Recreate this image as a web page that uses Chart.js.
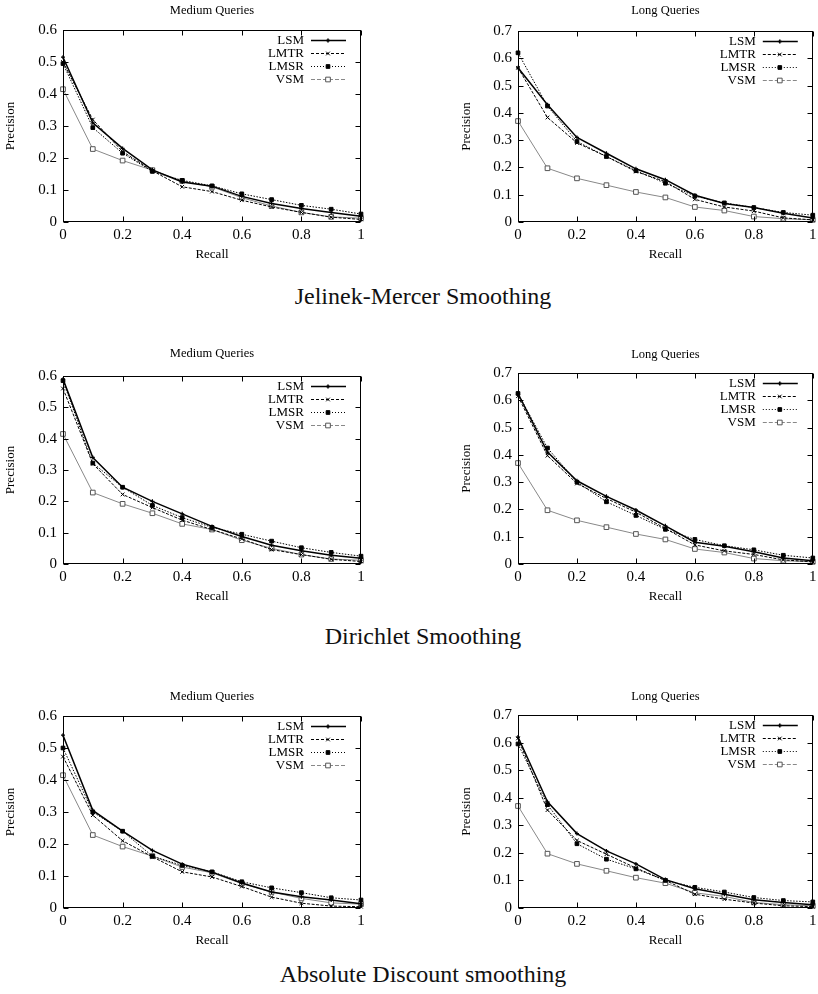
<!DOCTYPE html>
<html>
<head>
<meta charset="utf-8">
<title>Precision / Recall</title>
<script src="https://cdn.jsdelivr.net/npm/chart.js@4.4.1/dist/chart.umd.min.js"></script>
<style>
  html, body { margin: 0; padding: 0; background: #fff; }
  body { width: 818px; height: 994px; position: relative; overflow: hidden; font-family: 'Liberation Serif', 'Times New Roman', serif; }
  .panel { position: absolute; }
  .caption { position: absolute; transform: translateX(-50%); font-size: 24px; line-height: 24px; white-space: nowrap; color: #111; }
</style>
</head>
<body>
<div class="panel" style="left:0;top:0"><canvas id="jmMedium" width="370" height="264"></canvas></div>
<div class="panel" style="left:410px;top:0"><canvas id="jmLong" width="408" height="264"></canvas></div>
<div class="caption" style="left:423px;top:284px">Jelinek-Mercer Smoothing</div>

<div class="panel" style="left:0;top:340px"><canvas id="dirMedium" width="370" height="266"></canvas></div>
<div class="panel" style="left:410px;top:340px"><canvas id="dirLong" width="408" height="266"></canvas></div>
<div class="caption" style="left:423px;top:624px">Dirichlet Smoothing</div>

<div class="panel" style="left:0;top:680px"><canvas id="adMedium" width="370" height="270"></canvas></div>
<div class="panel" style="left:410px;top:680px"><canvas id="adLong" width="408" height="270"></canvas></div>
<div class="caption" style="left:423px;top:962px">Absolute Discount smoothing</div>

<script>
// recall levels (x axis)
const recall = [0, 0.1, 0.2, 0.3, 0.4, 0.5, 0.6, 0.7, 0.8, 0.9, 1];
const seriesNames = ['LSM', 'LMTR', 'LMSR', 'VSM'];

// VSM baseline, same in every row
const vsmMedium = [0.415, 0.228, 0.192, 0.162, 0.128, 0.110, 0.076, 0.050, 0.030, 0.016, 0.012];
const vsmLong   = [0.370, 0.197, 0.160, 0.135, 0.110, 0.090, 0.055, 0.042, 0.020, 0.012, 0.008];

// Jelinek-Mercer
const jmMediumLSM  = [0.515, 0.310, 0.230, 0.163, 0.125, 0.112, 0.080, 0.058, 0.042, 0.030, 0.018];
const jmMediumLMTR = [0.500, 0.320, 0.220, 0.160, 0.110, 0.095, 0.068, 0.047, 0.030, 0.015, 0.008];
const jmMediumLMSR = [0.495, 0.295, 0.215, 0.158, 0.130, 0.113, 0.088, 0.070, 0.052, 0.040, 0.025];
const jmLongLSM    = [0.565, 0.430, 0.310, 0.252, 0.195, 0.155, 0.098, 0.068, 0.053, 0.032, 0.015];
const jmLongLMTR   = [0.565, 0.383, 0.290, 0.240, 0.185, 0.148, 0.083, 0.055, 0.040, 0.015, 0.008];
const jmLongLMSR   = [0.620, 0.425, 0.295, 0.240, 0.188, 0.142, 0.095, 0.070, 0.053, 0.035, 0.025];

// Dirichlet
const dirMediumLSM  = [0.590, 0.340, 0.245, 0.200, 0.160, 0.120, 0.088, 0.060, 0.042, 0.028, 0.018];
const dirMediumLMTR = [0.560, 0.320, 0.222, 0.180, 0.140, 0.110, 0.080, 0.046, 0.030, 0.015, 0.008];
const dirMediumLMSR = [0.585, 0.322, 0.245, 0.187, 0.148, 0.117, 0.095, 0.073, 0.052, 0.037, 0.025];
const dirLongLSM    = [0.625, 0.410, 0.305, 0.248, 0.198, 0.140, 0.080, 0.065, 0.045, 0.022, 0.012];
const dirLongLMTR   = [0.615, 0.397, 0.295, 0.240, 0.190, 0.130, 0.070, 0.048, 0.035, 0.015, 0.008];
const dirLongLMSR   = [0.625, 0.425, 0.300, 0.228, 0.178, 0.127, 0.090, 0.067, 0.052, 0.032, 0.022];

// Absolute discount
const adMediumLSM  = [0.540, 0.305, 0.240, 0.180, 0.137, 0.112, 0.078, 0.050, 0.035, 0.025, 0.013];
const adMediumLMTR = [0.473, 0.290, 0.210, 0.160, 0.113, 0.097, 0.067, 0.034, 0.015, 0.006, 0.004];
const adMediumLMSR = [0.500, 0.300, 0.240, 0.162, 0.133, 0.113, 0.082, 0.063, 0.048, 0.032, 0.025];
const adLongLSM    = [0.620, 0.385, 0.270, 0.207, 0.160, 0.103, 0.070, 0.050, 0.030, 0.020, 0.012];
const adLongLMTR   = [0.615, 0.355, 0.245, 0.195, 0.145, 0.100, 0.050, 0.032, 0.018, 0.008, 0.005];
const adLongLMSR   = [0.595, 0.375, 0.233, 0.177, 0.142, 0.100, 0.075, 0.058, 0.038, 0.027, 0.022];

const serif = "'Liberation Serif', 'Times New Roman', serif";
Chart.defaults.font.family = serif;
Chart.defaults.color = '#000';

// gnuplot-like line styles, one per series (keyDash = pattern shown in the key)
const lineStyles = {
  LSM:  { borderColor: '#000', borderWidth: 1.5, borderDash: [],       keyDash: [],     pointStyle: 'cross',    pointRadius: 2,   pointBorderWidth: 1.2, pointBorderColor: '#000', pointBackgroundColor: '#000' },
  LMTR: { borderColor: '#000', borderWidth: 1,   borderDash: [3, 1.5], keyDash: [3, 2], pointStyle: 'crossRot', pointRadius: 2.6, pointBorderWidth: 1,   pointBorderColor: '#000', pointBackgroundColor: '#000' },
  LMSR: { borderColor: '#000', borderWidth: 1,   borderDash: [1.5, 1.5], keyDash: [1, 2], pointStyle: 'rect', pointRadius: 2.6, pointBorderWidth: 1,   pointBorderColor: '#000', pointBackgroundColor: '#000' },
  VSM:  { borderColor: '#888', borderWidth: 1,   borderDash: [],       keyDash: [4, 2], pointStyle: 'rect',     pointRadius: 3.3, pointBorderWidth: 1,   pointBorderColor: '#555', pointBackgroundColor: '#fff' }
};

// box + inward mirrored ticks + key in the top right corner
const gnuplotFrame = {
  id: 'gnuplotFrame',
  afterDatasetsDraw(chart) {
    const { ctx, chartArea: a, scales } = chart;
    const L = Math.round(a.left) + 0.5, R = Math.round(a.right) - 0.5;
    const T = Math.round(a.top) + 0.5, B = Math.round(a.bottom) - 0.5;
    ctx.save();
    ctx.strokeStyle = '#000';
    ctx.lineWidth = 1;
    ctx.setLineDash([]);
    ctx.strokeRect(L, T, R - L, B - T);
    ctx.beginPath();
    scales.x.ticks.forEach(t => {
      const x = Math.round(scales.x.getPixelForValue(t.value)) + 0.5;
      ctx.moveTo(x, B); ctx.lineTo(x, B - 5);
      ctx.moveTo(x, T); ctx.lineTo(x, T + 5);
    });
    scales.y.ticks.forEach(t => {
      const y = Math.round(scales.y.getPixelForValue(t.value)) + 0.5;
      ctx.moveTo(L, y); ctx.lineTo(L + 5, y);
      ctx.moveTo(R, y); ctx.lineTo(R - 5, y);
    });
    ctx.stroke();

    // key
    ctx.font = '13px ' + serif;
    ctx.textAlign = 'right';
    ctx.textBaseline = 'middle';
    chart.data.datasets.forEach((ds, i) => {
      const y = Math.round(a.top + 9.5 + i * 13) + 0.5;
      ctx.fillStyle = '#000';
      ctx.fillText(ds.label, a.right - 57, y + 0.5);
      ctx.strokeStyle = ds.borderColor;
      ctx.lineWidth = ds.borderWidth;
      ctx.setLineDash(ds.keyDash);
      ctx.beginPath();
      ctx.moveTo(a.right - 50, y);
      ctx.lineTo(a.right - 15, y);
      ctx.stroke();
      ctx.setLineDash([]);
      ctx.strokeStyle = ds.pointBorderColor;
      ctx.fillStyle = ds.pointBackgroundColor;
      Chart.helpers.drawPoint(ctx, {
        pointStyle: ds.pointStyle, radius: ds.pointRadius,
        borderWidth: ds.pointBorderWidth, rotation: 0
      }, a.right - 33, y);
    });
    ctx.restore();
  }
};

const panels = [
  { id: 'jmMedium',  title: 'Medium Queries', ymax: 0.6, top: 30, bottom: 222, titleY: 11, yAxisWidth: 63,  padRight: 9, precisionX: 11, values: [jmMediumLSM, jmMediumLMTR, jmMediumLMSR, vsmMedium] },
  { id: 'jmLong',    title: 'Long Queries',   ymax: 0.7, top: 31, bottom: 222, titleY: 11, yAxisWidth: 108, padRight: 3, precisionX: 57, values: [jmLongLSM, jmLongLMTR, jmLongLMSR, vsmLong] },
  { id: 'dirMedium', title: 'Medium Queries', ymax: 0.6, top: 36, bottom: 224, titleY: 14, yAxisWidth: 63,  padRight: 9, precisionX: 11, values: [dirMediumLSM, dirMediumLMTR, dirMediumLMSR, vsmMedium] },
  { id: 'dirLong',   title: 'Long Queries',   ymax: 0.7, top: 33, bottom: 224, titleY: 15, yAxisWidth: 108, padRight: 3, precisionX: 57, values: [dirLongLSM, dirLongLMTR, dirLongLMSR, vsmLong] },
  { id: 'adMedium',  title: 'Medium Queries', ymax: 0.6, top: 36, bottom: 228, titleY: 17, yAxisWidth: 63,  padRight: 9, precisionX: 11, values: [adMediumLSM, adMediumLMTR, adMediumLMSR, vsmMedium] },
  { id: 'adLong',    title: 'Long Queries',   ymax: 0.7, top: 35, bottom: 228, titleY: 17, yAxisWidth: 108, padRight: 3, precisionX: 57, values: [adLongLSM, adLongLMTR, adLongLMSR, vsmLong] }
];

const plainNumber = v => String(+Number(v).toFixed(2));

panels.forEach(p => {
  const titlePadTop = p.titleY - 7.5;
  const titlePadBottom = p.top - titlePadTop - 15;
  const datasets = p.values.map((vals, i) => Object.assign({
    label: seriesNames[i],
    data: vals.map((v, k) => ({ x: recall[k], y: v })),
    fill: false,
    tension: 0,
    clip: false
  }, lineStyles[seriesNames[i]]));

  new Chart(document.getElementById(p.id), {
    type: 'line',
    data: { datasets },
    options: {
      responsive: false,
      animation: false,
      devicePixelRatio: 1,
      layout: { padding: { left: 0, right: p.padRight, top: 0, bottom: 0 } },
      plugins: {
        legend: { display: false },
        tooltip: { enabled: false },
        title: {
          display: true, text: p.title, fullSize: false, color: '#000',
          font: { family: serif, size: 12.5, weight: 'normal', lineHeight: 1.2 },
          padding: { top: titlePadTop, bottom: titlePadBottom }
        }
      },
      scales: {
        x: {
          type: 'linear', min: 0, max: 1,
          ticks: { stepSize: 0.2, padding: 4, maxRotation: 0, font: { family: serif, size: 15 }, color: '#000', callback: plainNumber },
          grid: { display: false, drawTicks: false },
          border: { display: false },
          title: { display: true, text: 'Recall', color: '#000', font: { family: serif, size: 13, lineHeight: 1.2 }, padding: { top: 0, bottom: 1.2 } },
          afterFit: s => { s.height = 42; s.paddingLeft = 0; s.paddingRight = 0; }
        },
        y: {
          type: 'linear', min: 0, max: p.ymax,
          ticks: { stepSize: 0.1, padding: 6, font: { family: serif, size: 15 }, color: '#000', callback: plainNumber },
          grid: { display: false, drawTicks: false },
          border: { display: false },
          title: { display: true, text: 'Precision', color: '#000', font: { family: serif, size: 13, lineHeight: 1.2 }, padding: { top: p.precisionX - 7.8, bottom: 0 } },
          afterFit: s => { s.width = p.yAxisWidth; s.paddingTop = 0; s.paddingBottom = 0; }
        }
      }
    },
    plugins: [gnuplotFrame]
  });
});
</script>
</body>
</html>
